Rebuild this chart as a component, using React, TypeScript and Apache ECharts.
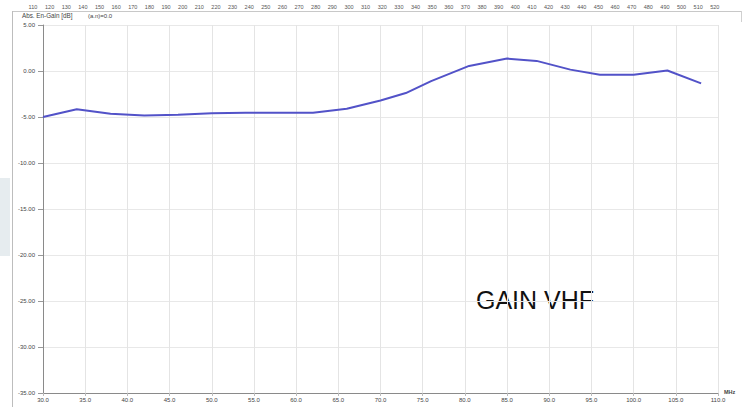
import React, { useEffect, useRef } from "react";
import * as echarts from "echarts";

// Frequency (MHz) and gain (dB)
const freqMHz = [30, 34, 38, 42, 46, 50, 54, 58, 62, 66, 70, 73, 76, 80.5, 85, 88.5, 92.5, 96, 100, 104, 108];
const gainDb = [-5.0, -4.15, -4.65, -4.85, -4.75, -4.6, -4.55, -4.55, -4.55, -4.1, -3.2, -2.4, -1.1, 0.55, 1.35, 1.1, 0.15, -0.4, -0.4, 0.05, -1.35];

// Top ruler labels
const rulerLabels: string[] = [];
for (let v = 110; v <= 520; v += 10) rulerLabels.push(String(v));

const yTickMin = -35;
const yTickMax = 5;
const tickStep = 5;
const xMin = 30;
const xMax = 110;

export default function App() {
  const ref = useRef<HTMLDivElement>(null);

  useEffect(() => {
    if (!ref.current) return;
    const chart = echarts.init(ref.current, undefined, { renderer: "svg" });

    const rulerGraphics = rulerLabels.map((t, i) => ({
      type: "text",
      x: 33 + i * 16.63,
      y: 7,
      style: {
        text: t,
        fill: "#555",
        font: "5.5px 'Liberation Sans', Arial, sans-serif",
        align: "center",
        verticalAlign: "middle",
      },
      silent: true,
    }));

    chart.setOption({
      animation: false,
      backgroundColor: "#ffffff",
      grid: { left: 43, right: 30, top: 25, bottom: 14, containLabel: false },
      xAxis: {
        type: "value",
        min: xMin,
        max: xMax,
        interval: tickStep,
        axisLine: { show: true, onZero: false, lineStyle: { color: "#8a8a8a", width: 1 } },
        axisTick: { show: true, length: 3, lineStyle: { color: "#bbb" } },
        axisLabel: {
          formatter: (v: number) => v.toFixed(1),
          fontSize: 6,
          color: "#444",
          margin: 4,
          fontFamily: "'Liberation Sans', Arial, sans-serif",
        },
        splitLine: { show: true, lineStyle: { color: "#e4e4e4", width: 1 } },
      },
      yAxis: {
        type: "value",
        min: yTickMin,
        max: yTickMax,
        interval: tickStep,
        axisLine: { show: true, onZero: false, lineStyle: { color: "#8a8a8a", width: 1 } },
        axisTick: { show: true, length: 5, lineStyle: { color: "#999" } },
        axisLabel: {
          formatter: (v: number) => v.toFixed(2),
          fontSize: 6,
          color: "#444",
          margin: 8,
          fontFamily: "'Liberation Sans', Arial, sans-serif",
        },
        splitLine: { show: true, lineStyle: { color: "#e8e8e8", width: 1 } },
      },
      series: [
        {
          type: "line",
          data: freqMHz.map((f, i) => [f, gainDb[i]]),
          showSymbol: false,
          lineStyle: { color: "#5252c8", width: 2 },
          itemStyle: { color: "#5252c8" },
        },
      ],
      graphic: [
        // outer frame
        { type: "line", shape: { x1: 12, y1: 11.5, x2: 742, y2: 11.5 }, style: { stroke: "#c8c8c8", lineWidth: 1 }, silent: true },
        { type: "line", shape: { x1: 12.5, y1: 11, x2: 12.5, y2: 407 }, style: { stroke: "#bdbdbd", lineWidth: 1 }, silent: true },
        { type: "line", shape: { x1: 741.5, y1: 11, x2: 741.5, y2: 22 }, style: { stroke: "#d0d0d0", lineWidth: 1 }, silent: true },
        { type: "rect", shape: { x: 0, y: 178, width: 10, height: 78 }, style: { fill: "#e6ecef" }, silent: true },
        ...rulerGraphics,
        {
          type: "text",
          x: 22,
          y: 15.5,
          style: { text: "Abs. En-Gain [dB]", fill: "#444", font: "6.3px 'Liberation Sans', Arial, sans-serif", verticalAlign: "middle" },
          silent: true,
        },
        {
          type: "text",
          x: 88,
          y: 15.5,
          style: { text: "(a.n)=0.0", fill: "#444", font: "6px 'Liberation Sans', Arial, sans-serif", verticalAlign: "middle" },
          silent: true,
        },
        {
          type: "text",
          x: 724,
          y: 392,
          style: { text: "MHz", fill: "#444", font: "bold 5.5px 'Liberation Sans', Arial, sans-serif", verticalAlign: "middle" },
          silent: true,
        },
        {
          type: "text",
          x: 476,
          y: 300,
          style: { text: "GAIN VHF", fill: "#111", font: "25px 'Liberation Sans', Arial, sans-serif", verticalAlign: "middle" },
          silent: true,
        },
      ],
    });

    return () => chart.dispose();
  }, []);

  return <div ref={ref} style={{ width: 748, height: 407, position: "absolute", left: 0, top: 0 }} />;
}
